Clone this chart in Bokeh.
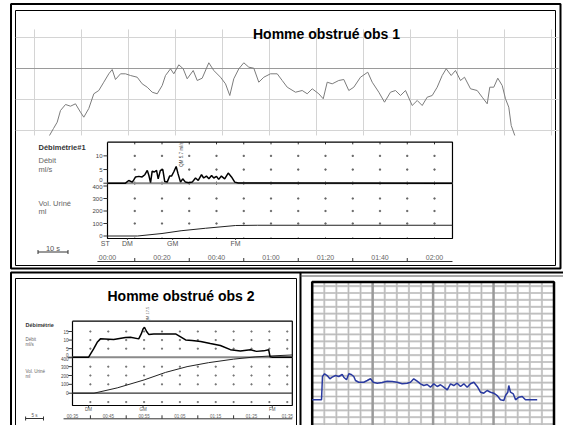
import numpy as np
from bokeh.plotting import figure
from bokeh.models import Range1d
from bokeh.core.properties import value
from bokeh.embed import file_html
from bokeh.resources import INLINE

FONT = "Liberation Sans"

# ------------------------------------------------------------------ data
title_top = "Homme obstrué obs 1"
title_bottom = "Homme obstrué obs 2"

# upper continuous trace (time s, amplitude a.u.)
trace_t = [3.19, 4.04, 4.83, 5.53, 6.60, 7.66, 8.72, 9.79, 10.49, 11.55, 12.62, 13.68, 14.74,
           15.81, 16.53, 17.23, 18.30, 19.36, 20.43, 21.85, 22.91, 23.98, 25.04, 26.11, 27.17,
           27.87, 28.94, 29.64, 30.70, 31.64, 32.49, 33.77, 34.62, 35.68, 37.09, 38.15, 39.57,
           40.64, 41.55, 42.40, 43.47, 44.53, 45.60, 46.66, 47.72, 48.79, 50.21, 51.64, 52.70,
           53.77, 55.53, 56.96, 58.02, 59.09, 60.49, 61.43, 62.28, 63.34, 64.74, 65.81, 66.87,
           67.94, 69.36, 70.91, 71.85, 73.26, 74.47, 75.74, 76.81, 77.87, 78.94, 80.36, 81.43,
           82.49, 83.55, 84.62, 85.68, 86.74, 87.60, 88.66, 89.57, 90.64, 91.49, 92.77, 94.19,
           95.26, 96.32, 96.87, 97.72, 98.57, 99.51, 100.21, 100.91, 101.43, 102.19]
trace_v = [-1.61, 0.65, 2.68, 6.45, 8.39, 7.84, 8.61, 5.90, 4.29, 7.10, 11.84, 12.90, 15.58,
           18.29, 19.68, 16.45, 18.29, 18.29, 17.74, 17.19, 15.06, 13.97, 12.35, 11.84, 14.52,
           17.74, 19.90, 18.29, 21.19, 19.90, 16.68, 19.35, 16.13, 16.87, 21.84, 19.35, 17.19,
           15.06, 11.29, 16.68, 19.90, 21.84, 20.42, 20.10, 15.58, 17.19, 18.29, 18.29, 16.13,
           13.97, 12.35, 12.90, 11.84, 13.45, 11.84, 10.23, 15.58, 15.06, 16.13, 16.45, 12.90,
           13.97, 17.19, 18.81, 15.58, 12.35, 9.13, 12.35, 12.90, 11.29, 12.90, 8.06, 9.68,
           8.06, 10.74, 11.29, 13.97, 17.74, 19.90, 17.74, 19.35, 16.13, 17.19, 13.45, 12.90,
           10.74, 8.61, 13.97, 13.97, 16.87, 14.52, 10.23, 7.52, 1.61, -1.61]
trace_grid_t = [0, 10, 20, 30, 40, 50, 60, 70, 80, 90, 100, 110]
trace_grid_v = [0, 10, 20, 30]

# Débitmétrie #1 (obs 1)
flow1_t = [0, 6.6, 7.8, 9.1, 9.7, 10.3, 11.5, 12.7, 13.7, 14.6, 15.2, 15.8, 16.4, 17.2, 18.0,
           18.6, 19.4, 20.3, 21.0, 21.9, 22.8, 23.5, 24.3, 25.2, 25.9, 26.8, 27.6, 28.6, 29.8,
           31.1, 32.3, 33.3, 34.5, 35.3, 36.3, 37.2, 38.2, 39.0, 40.0, 40.8, 41.8, 43.0, 44.3,
           45.5, 46.7, 48.0, 126.6]
flow1_q = [0, 0, 1.0, 0.4, 1.3, 2.3, 2.5, 2.3, 3.1, 4.7, 2.8, 0.2, 4.4, 4.1, 4.7,
           1.6, 4.7, 5.0, 0.6, 0.4, 2.6, 2.6, 4.1, 6.1, 3.4, 0.4, 1.6, 0.4, 0.2,
           0.4, 1.9, 1.0, 3.1, 1.9, 2.6, 1.6, 2.8, 1.9, 2.5, 1.4, 2.6, 1.6, 3.7,
           2.3, 0.4, 0.1, 0]
vol1_t = [0, 11, 20, 27, 36, 47, 55, 126.6]
vol1_v = [0, 0, 20, 42, 62, 84, 86, 86]
flow1_ticks = [10, 5, 0]
vol1_ticks = [400, 300, 200, 100, 0]
grid1_t = [10, 20, 30, 40, 50, 60, 70, 80, 90, 100, 110, 120]
time1_ticks = [0, 20, 40, 60, 80, 100, 120]
time1_labels = ["00:00", "00:20", "00:40", "01:00", "01:20", "01:40", "02:00"]
time1_minor = [10, 30, 50, 70, 90, 110]
events1_t = [-0.8, 7.3, 23.9, 47.0]
events1_lab = ["ST", "DM", "GM", "FM"]
qmax1_t, qmax1_q, qmax1_lab = 27.0, 10.5, "QM 5.7 ml/s"

# Débitmétrie obs 2
flow2_t = [0, 4.5, 5.9, 6.9, 7.8, 11.5, 14.8, 16.2, 18.5, 19.2, 19.7, 20.1, 20.7, 21.3, 22.7,
           25.4, 28.8, 30.2, 31.6, 33.4, 35.8, 38.5, 41.3, 44.1, 46.9, 49.7, 51.4, 53.4, 54.8,
           55.2, 55.9, 61.4]
flow2_q = [0, 0, 4.9, 8.7, 10.7, 10.3, 11.5, 11.7, 10.7, 13.6, 16.5, 17.5, 15.0, 13.3, 13.6,
           13.6, 13.6, 11.9, 10.1, 9.8, 9.2, 8.0, 6.8, 4.4, 3.6, 4.3, 3.4, 3.7, 4.3,
           0.2, 0, 0]
vol2_t = [0, 6, 12.5, 20, 26, 32, 38, 45, 51, 56, 61.4]
vol2_v = [0, 0, 60, 150, 235, 300, 345, 385, 410, 422, 432]
flow2_ticks = [15, 10, 5, 0]
vol2_ticks = [400, 300, 200, 100, 0]
grid2_t = [5, 10, 15, 20, 25, 30, 35, 40, 45, 50, 55, 60]
time2_ticks = [0, 10, 20, 30, 40, 50, 60]
time2_labels = ["00:35", "00:45", "00:55", "01:05", "01:15", "01:25", "01:35"]
time2_minor = [5, 15, 25, 35, 45, 55]
events2_t = [4.5, 19.7, 55.8]
events2_lab = ["DM", "GM", "FM"]
qmax2_t, qmax2_q, qmax2_lab = 20.9, 25.0, "QM 17.5"

# blue trace on chart paper (grid units)
blue_t = [0, 0.74, 0.77, 0.85, 1.02, 1.24, 1.46, 1.65, 1.93, 2.20, 2.48, 2.61, 2.84, 3.03, 3.23,
          3.44, 3.58, 3.85, 4.27, 4.55, 4.82, 5.05, 5.38, 5.79, 6.20, 6.62, 7.03, 7.44, 7.86,
          8.13, 8.40, 8.68, 8.96, 9.23, 9.51, 9.78, 10.06, 10.34, 10.61, 10.88, 11.17, 11.44,
          11.71, 11.99, 12.27, 12.54, 12.82, 13.09, 13.37, 13.65, 13.92, 14.19, 14.47, 14.75,
          15.02, 15.30, 15.57, 15.85, 15.99, 16.18, 16.26, 16.40, 16.63, 16.82, 17.09, 17.37,
          17.64, 18.61]
blue_v = [2.52, 2.52, 2.52, 5.90, 6.29, 6.04, 5.57, 5.80, 6.04, 5.90, 6.19, 5.80, 5.42, 6.29,
          6.19, 5.90, 5.32, 5.07, 5.07, 5.32, 5.57, 5.07, 4.93, 5.03, 5.22, 5.17, 5.07, 4.84,
          4.93, 5.07, 5.57, 5.22, 4.84, 4.59, 4.74, 4.35, 4.84, 4.45, 4.70, 4.35, 3.97, 4.84,
          4.59, 4.93, 4.45, 4.84, 4.35, 4.84, 5.07, 4.45, 3.62, 3.48, 3.87, 3.62, 3.48, 3.14,
          2.52, 2.42, 3.14, 3.62, 4.59, 3.62, 3.39, 2.52, 2.90, 3.00, 2.52, 2.52]
paper_minor_t = [t for t in range(1, 20) if t % 5]
paper_major_t = [5, 10, 15]
paper_v = list(range(-1, 20))

# ------------------------------------------------------------------ figure
p = figure(width=563, height=425, x_range=Range1d(0, 563), y_range=Range1d(425, 0),
           x_axis_location=None, y_axis_location=None, toolbar_location=None,
           output_backend="svg", min_border=0)
p.grid.visible = False
p.outline_line_color = None
p.background_fill_color = "white"
p.border_fill_color = "white"


def sub(xs, xt, ys, yt):
    return p.subplot(x_source=Range1d(*xs), y_source=Range1d(*ys),
                     x_target=Range1d(*xt), y_target=Range1d(*yt))


def txt(r, x, y, t, size, color="#444", bold=False, align="left", base="middle", **kw):
    r.text(x=x, y=y, text=t, text_font=value(FONT), text_font_size=size,
           text_font_style="bold" if bold else "normal", text_color=color,
           text_align=align, text_baseline=base, **kw)


# panel borders (page layout)
p.quad(left=[10.5, 15], right=[560, 555], top=[3.5, 10], bottom=[268, 265],
       fill_color=None, line_color="black", line_width=[2, 1])
p.quad(left=[10.5, 15], right=[300, 296], top=[272, 278], bottom=[440, 440],
       fill_color=None, line_color="black", line_width=[2, 1])
p.segment(x0=[300, 300], y0=[272, 275.5], x1=[563, 563], y1=[272, 275.5],
          line_color=["black", "#555"], line_width=[2, 1])

# ---------------- top trace
tr = sub((0, 110), (34, 551), (0, 30), (130, 37))
n = len(trace_grid_t)
tr.segment(x0=trace_grid_t, y0=[-1.6] * n, x1=trace_grid_t, y1=[32.6] * n,
           line_color="#d4d4d4", line_width=1)
m = len(trace_grid_v)
tr.segment(x0=[-4.0] * m, y0=trace_grid_v, x1=[111.5] * m, y1=trace_grid_v,
           line_color=["#d4d4d4", "#d4d4d4", "#9a9a9a", "#d4d4d4"], line_width=1)
tr.line(trace_t, trace_v, line_color="#7c7c7c", line_width=1)
txt(p, [326], [33], [title_top], "14px", color="black", bold=True, align="center")

# ---------------- Débitmétrie #1
T1 = (0, 120)
X1 = (107, 434)
T1_END = 126.6
fl = sub(T1, X1, (0, 15), (182.7, 141.7))
vo = sub(T1, X1, (0, 400), (235.5, 185.5))
ax1 = sub(T1, X1, (0, 1), (261, 251))

gx = [t for t in grid1_t for _ in (5, 10)]
gy = [q for _ in grid1_t for q in (5, 10)]
fl.scatter(gx, gy, marker="square", size=1.2, color="#666")
gx = [t for t in grid1_t for _ in (100, 200, 300)]
gy = [v for _ in grid1_t for v in (100, 200, 300)]
vo.scatter(gx, gy, marker="square", size=1.2, color="#666")
k = len(grid1_t)
fl.segment(x0=grid1_t, y0=[15] * k, x1=grid1_t, y1=[14.2] * k, line_color="#333", line_width=1)
fl.segment(x0=grid1_t, y0=[0.6] * k, x1=grid1_t, y1=[-0.6] * k, line_color="#555", line_width=1)
vo.segment(x0=grid1_t, y0=[-20] * k, x1=grid1_t, y1=[-12] * k, line_color="#333", line_width=1)
fl.line([0, T1_END, T1_END], [15, 15, 0], line_color="black", line_width=1.2)
vo.line([T1_END, T1_END, 0, 0], [422, -20, -20, 422], line_color="black", line_width=1.2)
fl.line([0, 0], [0, 15], line_color="black", line_width=1.2)
fl.line([0, T1_END], [0, 0], line_color="#8a8a8a", line_width=2)
fl.segment(x0=[-1.5] * 3, y0=flow1_ticks, x1=[0] * 3, y1=flow1_ticks, line_color="#333")
vo.segment(x0=[-1.5] * 5, y0=vol1_ticks, x1=[0] * 5, y1=vol1_ticks, line_color="#333")
txt(fl, [0] * 3, flow1_ticks, [str(v) for v in flow1_ticks], "6px", align="right",
    x_offset=-5, y_offset=[0, 0, -3])
txt(vo, [0] * 5, vol1_ticks, [str(v) for v in vol1_ticks], "6px", align="right",
    x_offset=-5, y_offset=[1, 0, 0, 0, 0])
vo.line(vol1_t, vol1_v, line_color="#222", line_width=1)
fl.line(flow1_t, flow1_q, line_color="black", line_width=1.5)
txt(fl, [qmax1_t], [qmax1_q], [qmax1_lab], "4.5px", color="#444", align="center", angle=np.pi / 2)
ne = len(events1_t)
vo.segment(x0=events1_t[1:], y0=[-20] * (ne - 1), x1=events1_t[1:], y1=[-32] * (ne - 1),
           line_color="#444")
txt(vo, events1_t, [-20] * ne, events1_lab, "7px", color="#555", align="center", y_offset=5)
txt(p, [38], [147], ["Débimétrie#1"], "7.5px", color="#333", bold=True)
txt(p, [38, 38], [160, 169], ["Débit", "ml/s"], "7.5px", color="#666")
txt(p, [38, 38], [203, 211], ["Vol. Uriné", "ml"], "7.5px", color="#666")
ax1.line([-3.7, T1_END], [0, 0], line_color="#333", line_width=1)
ax1.segment(x0=time1_minor, y0=[0] * 6, x1=time1_minor, y1=[0.35] * 6, line_color="#333")
txt(ax1, time1_ticks, [0.45] * 7, time1_labels, "7px", color="#666", align="center")
ax1.line([-25.5, -14.5], [0.95, 0.95], line_color="#333")
ax1.segment(x0=[-25.5, -14.5], y0=[0.75, 0.75], x1=[-25.5, -14.5], y1=[1.15, 1.15],
            line_color="#333")
txt(ax1, [-20], [1.3], ["10 s"], "7.5px", color="#555", align="center")

# ---------------- Débitmétrie obs 2
T2 = (0, 60)
X2 = (72, 286.8)
T2_END = 61.4
fl2 = sub(T2, X2, (0, 15), (356.7, 331))
vo2 = sub(T2, X2, (0, 400), (392.7, 357.3))
ax2 = sub(T2, X2, (0, 1), (418.3, 408.3))
gx = [t for t in grid2_t for _ in (5, 10, 15)]
gy = [q for _ in grid2_t for q in (5, 10, 15)]
fl2.scatter(gx, gy, marker="square", size=1.1, color="#777")
gx = [t for t in grid2_t for _ in (100, 200, 300, -100)]
gy = [v for _ in grid2_t for v in (100, 200, 300, -100)]
vo2.scatter(gx, gy, marker="square", size=1.1, color="#777")
fl2.line([0, T2_END, T2_END], [21, 21, 0], line_color="black", line_width=1.2)
vo2.line([T2_END, T2_END, 0, 0], [406, -139, -139, 406], line_color="black", line_width=1.2)
fl2.line([0, 0], [0, 21], line_color="black", line_width=1.2)
fl2.line([0, T2_END], [0, 0], line_color="#8a8a8a", line_width=2)
vo2.line([0, T2_END], [0, 0], line_color="#333", line_width=1.2)
fl2.segment(x0=[-1.2] * 4, y0=flow2_ticks, x1=[0] * 4, y1=flow2_ticks, line_color="#333")
vo2.segment(x0=[-1.2] * 5, y0=vol2_ticks, x1=[0] * 5, y1=vol2_ticks, line_color="#333")
txt(fl2, [0] * 4, flow2_ticks, [str(v) for v in flow2_ticks], "4.5px", align="right",
    x_offset=-4, y_offset=[0, 0, 0, -2])
txt(vo2, [0] * 5, vol2_ticks, [str(v) for v in vol2_ticks], "4.5px", align="right",
    x_offset=-4, y_offset=[1, 0, 0, 0, 0])
vo2.line(vol2_t, vol2_v, line_color="#222", line_width=1)
fl2.line(flow2_t, flow2_q, line_color="black", line_width=1.5)
txt(fl2, [qmax2_t], [qmax2_q], [qmax2_lab], "4px", color="#555", align="center", angle=np.pi / 2)
ne = len(events2_t)
vo2.segment(x0=events2_t, y0=[-139] * ne, x1=events2_t, y1=[-165] * ne, line_color="#444")
txt(vo2, events2_t, [-139] * ne, events2_lab, "4.5px", color="#555", align="center", y_offset=4)
txt(p, [25], [324], ["Débimétrie"], "5.5px", color="#333", bold=True)
txt(p, [25, 25], [339, 344], ["Débit", "ml/s"], "4.5px", color="#666")
txt(p, [25, 25], [371, 376], ["Vol. Uriné", "ml"], "4.5px", color="#666")
ax2.line([-2.5, T2_END], [0, 0], line_color="#333", line_width=1)
ax2.segment(x0=time2_minor, y0=[0] * 6, x1=time2_minor, y1=[0.35] * 6, line_color="#333")
txt(ax2, time2_ticks, [0.26] * 7, time2_labels, "4.5px", color="#666", align="center")
ax2.line([-13.1, -8.1], [0.03, 0.03], line_color="#333")
ax2.segment(x0=[-13.1, -8.1], y0=[-0.17, -0.17], x1=[-13.1, -8.1], y1=[0.23, 0.23],
            line_color="#333")
txt(ax2, [-10.6], [0.33], ["5 s"], "4.5px", color="#555", align="center")
txt(p, [180.5], [295], [title_bottom], "14px", color="black", bold=True, align="center")

# ---------------- chart-paper panel (blue trace)
bp = sub((0, 20), (311.7, 553.5), (0, 19), (416.7, 285.6))
nv = len(paper_v)
nm = len(paper_minor_t)
bp.segment(x0=[0] * nv, y0=paper_v, x1=[20] * nv, y1=paper_v, line_color="#d6d6d6", line_width=2.2)
bp.segment(x0=paper_minor_t, y0=[-1.5] * nm, x1=paper_minor_t, y1=[19.6] * nm,
           line_color="#d6d6d6", line_width=2.2)
bp.segment(x0=[0] * nv, y0=paper_v, x1=[20] * nv, y1=paper_v, line_color="#b0b0b0", line_width=0.7)
bp.segment(x0=paper_minor_t, y0=[-1.5] * nm, x1=paper_minor_t, y1=[19.6] * nm,
           line_color="#b0b0b0", line_width=0.7)
nM = len(paper_major_t)
bp.segment(x0=paper_major_t, y0=[-1.5] * nM, x1=paper_major_t, y1=[19.6] * nM,
           line_color="#9a9a9a", line_width=2.5)
bp.line([0, 0, 20, 20], [-1.5, 19.6, 19.6, -1.5], line_color="black", line_width=2.5)
bp.line(blue_t, blue_v, line_color="#2a3aa0", line_width=1.5)

open("out.html", "w").write(file_html(p, INLINE))
